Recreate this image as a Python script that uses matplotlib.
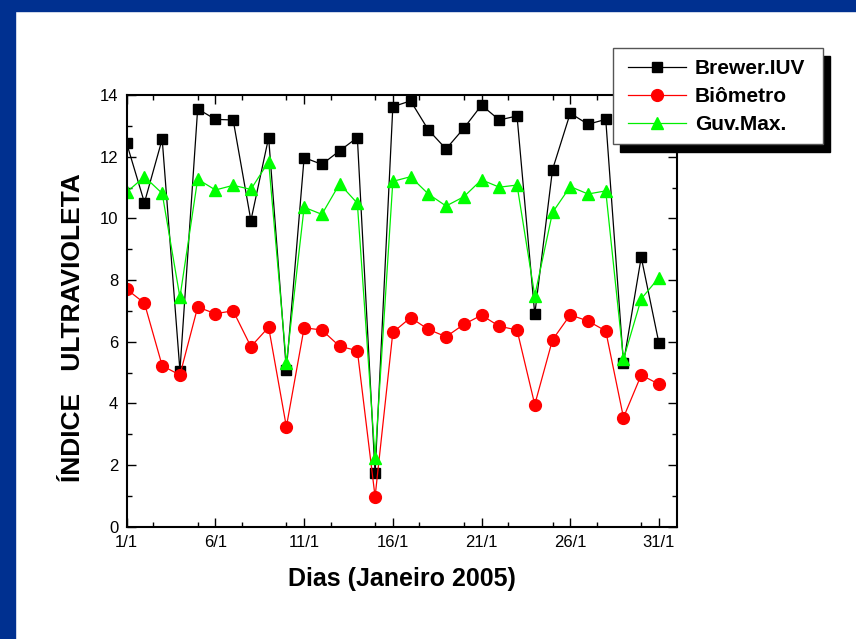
import numpy as np
import matplotlib
matplotlib.use('Agg')
import matplotlib.pyplot as plt
from matplotlib.patches import Rectangle
from matplotlib.ticker import MultipleLocator

plt.rcParams['font.family'] = ['Liberation Sans', 'DejaVu Sans']

dias = np.arange(1, 32)
tick_pos = [1, 6, 11, 16, 21, 26, 31]
tick_lab = ['1/1', '6/1', '11/1', '16/1', '21/1', '26/1', '31/1']

brewer = [12.43, 10.51, 12.57, 5.06, 13.55, 13.21, 13.19, 9.93, 12.62, 5.08,
          11.97, 11.75, 12.19, 12.62, 1.73, 13.62, 13.81, 12.87, 12.25, 12.92,
          13.67, 13.19, 13.32, 6.89, 11.58, 13.41, 13.05, 13.21, 5.30, 8.74, 5.95]
biometro = [7.70, 7.25, 5.22, 4.92, 7.12, 6.91, 7.00, 5.84, 6.47, 3.24,
            6.45, 6.38, 5.85, 5.71, 0.97, 6.30, 6.78, 6.40, 6.16, 6.56,
            6.86, 6.50, 6.38, 3.96, 6.06, 6.87, 6.67, 6.35, 3.54, 4.92, 4.62]
guv = [10.85, 11.35, 10.81, 7.44, 11.27, 10.92, 11.07, 10.94, 11.84, 5.30,
       10.36, 10.13, 11.12, 10.49, 2.22, 11.20, 11.35, 10.79, 10.40, 10.70,
       11.25, 11.01, 11.08, 7.49, 10.19, 11.03, 10.79, 10.89, 5.43, 7.39, 8.08]

W, H = 856, 639
fig = plt.figure(figsize=(W/100, H/100), dpi=100)
# blue frame on the left and top
blue = '#003090'
fig.patches.append(Rectangle((0, 0), 15/W, 1, transform=fig.transFigure, color=blue, zorder=0))
fig.patches.append(Rectangle((0, 1-11/H), 1, 11/H, transform=fig.transFigure, color=blue, zorder=0))

ax = fig.add_axes([126.7/W, 1-526.7/H, 550/W, 431.7/H])
ax.plot(dias, brewer, '-s', color='black', lw=0.9, ms=7, label='Brewer.IUV')
ax.plot(dias, biometro, '-o', color='#ff0000', mec='#ff0000', lw=0.9, ms=8.5, label='Biômetro')
ax.plot(dias, guv, '-^', color='#00ee00', mfc='#00ff00', mec='#00ff00', lw=0.9, ms=9, label='Guv.Max.')

ax.set_xlim(1, 32)
ax.set_ylim(0, 14)
ax.set_xticks(tick_pos)
ax.set_xticklabels(tick_lab)
ax.xaxis.set_minor_locator(MultipleLocator(2.5))
ax.yaxis.set_major_locator(MultipleLocator(2))
ax.yaxis.set_minor_locator(MultipleLocator(1))
ax.tick_params(which='both', direction='in', top=True, right=True, labelsize=12, width=1, pad=6)
ax.tick_params(which='major', length=6.5)
ax.tick_params(which='minor', length=3.5)
for s in ax.spines.values():
    s.set_linewidth(1.5)

ax.set_xlabel('Dias (Janeiro 2005)', fontsize=18, fontweight='bold', labelpad=12)
fig.text(73/W, 1-327.5/H, 'ÍNDICE   ULTRAVIOLETA', rotation=90, fontsize=19,
         fontweight='bold', ha='center', va='center')

# legend box with hard black shadow
fig.patches.append(Rectangle((619.7/W, 1-151.7/H), 210/W, 96/H, transform=fig.transFigure,
                             color='black', zorder=5))
fig.patches.append(Rectangle((612.7/W, 1-144.3/H), 210/W, 96/H, transform=fig.transFigure,
                             facecolor='white', edgecolor='#555555', lw=1, zorder=6))
leg = fig.legend(loc='upper left', bbox_to_anchor=(628/W, 1-59/H), frameon=False,
                 prop={'size': 15, 'weight': 'bold'}, handlelength=2.8, borderpad=0,
                 handletextpad=0.4, labelspacing=0.44, borderaxespad=0)
leg.set_zorder(7)

plt.savefig('out.png', dpi=100)
